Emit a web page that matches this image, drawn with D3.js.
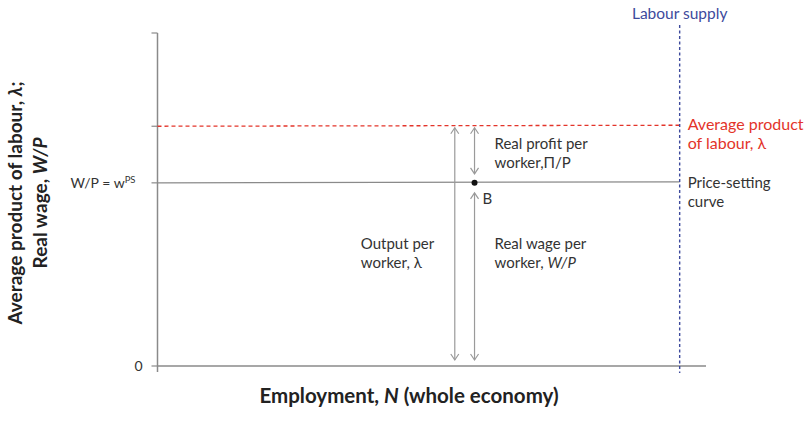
<!DOCTYPE html>
<html><head><meta charset="utf-8">
<script src="https://cdn.jsdelivr.net/npm/d3@7"></script>
<style>
body{margin:0;background:#fff;}
text{font-family:Lato,"Open Sans",sans-serif;}
</style></head>
<body><svg id="c" width="810" height="421"></svg>
<script>
// ---- data ----
const yTicks = [0, 5.5, 7.2, 10];          // y-axis tick values (0, w^PS, λ, top)
const yTickLabels = ["0", "W/P = w", "", ""];
const lambdaValue = 7.2;                   // average product of labour
const wpsValue = 5.5;                      // price-setting real wage
const labourSupplyN = 9.52;                // labour supply position
const arrowN = [5.42, 5.78];               // x positions of the arrows (output, wage/profit)
const pointB = {n: 5.78, w: 5.5, label: "B"};

const svg = d3.select("#c");
const x = d3.scaleLinear().domain([0, 10]).range([157.5, 706]);
const y = d3.scaleLinear().domain([0, 10]).range([366, 33]);

const grey = "#8a8a8a", txt = "#333", red = "#e3342a", blue = "#3d4a9c", arrowGrey = "#9a9a9a";

// axes
svg.append("line").attr("x1", x(0)).attr("x2", x(0)).attr("y1", y(10)).attr("y2", y(0) + 6)
  .attr("stroke", grey).attr("stroke-width", 1.5);
svg.append("line").attr("x1", x(0)).attr("x2", x(10)).attr("y1", y(0)).attr("y2", y(0))
  .attr("stroke", grey).attr("stroke-width", 1.5);
yTicks.forEach(t => {
  svg.append("line").attr("x1", x(0) - 6).attr("x2", x(0)).attr("y1", y(t)).attr("y2", y(t))
    .attr("stroke", grey).attr("stroke-width", 1.2);
});
// tick labels
svg.append("text").attr("x", x(0) - 15).attr("y", y(0) + 5).attr("text-anchor", "end")
  .attr("font-size", 14).attr("fill", txt).text(yTickLabels[0]);
const wl = svg.append("text").attr("x", x(0) - 22).attr("y", y(wpsValue) + 5).attr("text-anchor", "end")
  .attr("font-size", 14).attr("fill", txt);
wl.append("tspan").text(yTickLabels[1]);
wl.append("tspan").attr("font-size", 9.5).attr("dy", -5).text("PS");

// price-setting curve
svg.append("line").attr("x1", x(0)).attr("x2", x(labourSupplyN)).attr("y1", y(wpsValue)).attr("y2", y(wpsValue) - 1)
  .attr("stroke", grey).attr("stroke-width", 1.3);
// average product of labour (dashed red)
svg.append("line").attr("x1", x(0)).attr("x2", x(labourSupplyN)).attr("y1", y(lambdaValue)).attr("y2", y(lambdaValue) - 1)
  .attr("stroke", red).attr("stroke-width", 1.3).attr("stroke-dasharray", "4,3");
// labour supply (dotted blue)
svg.append("line").attr("x1", x(labourSupplyN)).attr("x2", x(labourSupplyN)).attr("y1", 25).attr("y2", y(0) + 7)
  .attr("stroke", blue).attr("stroke-width", 1.4).attr("stroke-dasharray", "3,2.5");

// arrows
function arrow(xv, v1, v2, offTop, offBot) {
  const g = svg.append("g").attr("stroke", arrowGrey).attr("stroke-width", 1.2).attr("fill", "none");
  const yt = y(v2) + offTop, yb = y(v1) - offBot, xp = x(xv);
  g.append("line").attr("x1", xp).attr("x2", xp).attr("y1", yt).attr("y2", yb);
  g.append("path").attr("d", `M${xp - 4},${yt + 6}L${xp},${yt}L${xp + 4},${yt + 6}`);
  g.append("path").attr("d", `M${xp - 4},${yb - 6}L${xp},${yb}L${xp + 4},${yb - 6}`);
}
arrow(arrowN[0], 0, lambdaValue, 1.5, 6);
arrow(arrowN[1], wpsValue, lambdaValue, 1.5, 9);
arrow(arrowN[1], 0, wpsValue, 10, 6);

// point B
svg.append("circle").attr("cx", x(pointB.n)).attr("cy", y(pointB.w)).attr("r", 3).attr("fill", "#111");
svg.append("text").attr("x", x(pointB.n) + 8).attr("y", y(pointB.w) + 21).attr("font-size", 15).attr("fill", txt).text(pointB.label);

// annotations
function lines(xp, yp, arr, color, size, anchor) {
  const t = svg.append("text").attr("x", xp).attr("y", yp).attr("font-size", size).attr("fill", color)
    .attr("text-anchor", anchor || "start");
  arr.forEach((ln, i) => {
    const row = t.append("tspan").attr("x", xp).attr("dy", i === 0 ? 0 : 19);
    ln.forEach((p, j) => {
      const s = j === 0 ? row : t.append("tspan");
      s.text(p.t);
      if (p.i) s.attr("font-style", "italic");
    });
  });
}
lines(x(arrowN[1]) + 20, y(lambdaValue) + 23, [[{t: "Real profit per"}], [{t: "worker,\u03a0/P"}]], txt, 15);
lines(x(arrowN[0]) - 94, y(wpsValue) + 66, [[{t: "Output per"}], [{t: "worker, \u03bb"}]], txt, 15);
lines(x(arrowN[1]) + 20, y(wpsValue) + 66, [[{t: "Real wage per"}], [{t: "worker, "}, {t: "W/P", i: true}]], txt, 15);
lines(x(labourSupplyN) + 8, y(lambdaValue) + 4, [[{t: "Average product"}], [{t: "of labour, \u03bb"}]], red, 16);
lines(x(labourSupplyN) + 8, y(wpsValue) + 5, [[{t: "Price-setting"}], [{t: "curve"}]], txt, 15);
svg.append("text").attr("x", x(labourSupplyN)).attr("y", 19).attr("text-anchor", "middle")
  .attr("font-size", 15.5).attr("fill", blue).text("Labour supply");

// axis titles
const xt = svg.append("text").attr("x", 409).attr("y", 403).attr("text-anchor", "middle")
  .attr("font-size", 20.5).attr("font-weight", "bold").attr("fill", "#222");
xt.append("tspan").text("Employment, ");
xt.append("tspan").attr("font-style", "italic").text("N");
xt.append("tspan").text(" (whole economy)");

const yt = svg.append("text").attr("transform", "translate(22,203) rotate(-90)").attr("text-anchor", "middle")
  .attr("font-size", 19).attr("font-weight", "bold").attr("fill", "#222");
yt.append("tspan").attr("x", 0).attr("dy", 0).text("Average product of labour, ");
yt.append("tspan").attr("font-style", "italic").text("\u03bb");
yt.append("tspan").text(";");
yt.append("tspan").attr("x", 0).attr("dy", 25).text("Real wage, ");
yt.append("tspan").attr("font-style", "italic").text("W/P");
</script></body></html>
